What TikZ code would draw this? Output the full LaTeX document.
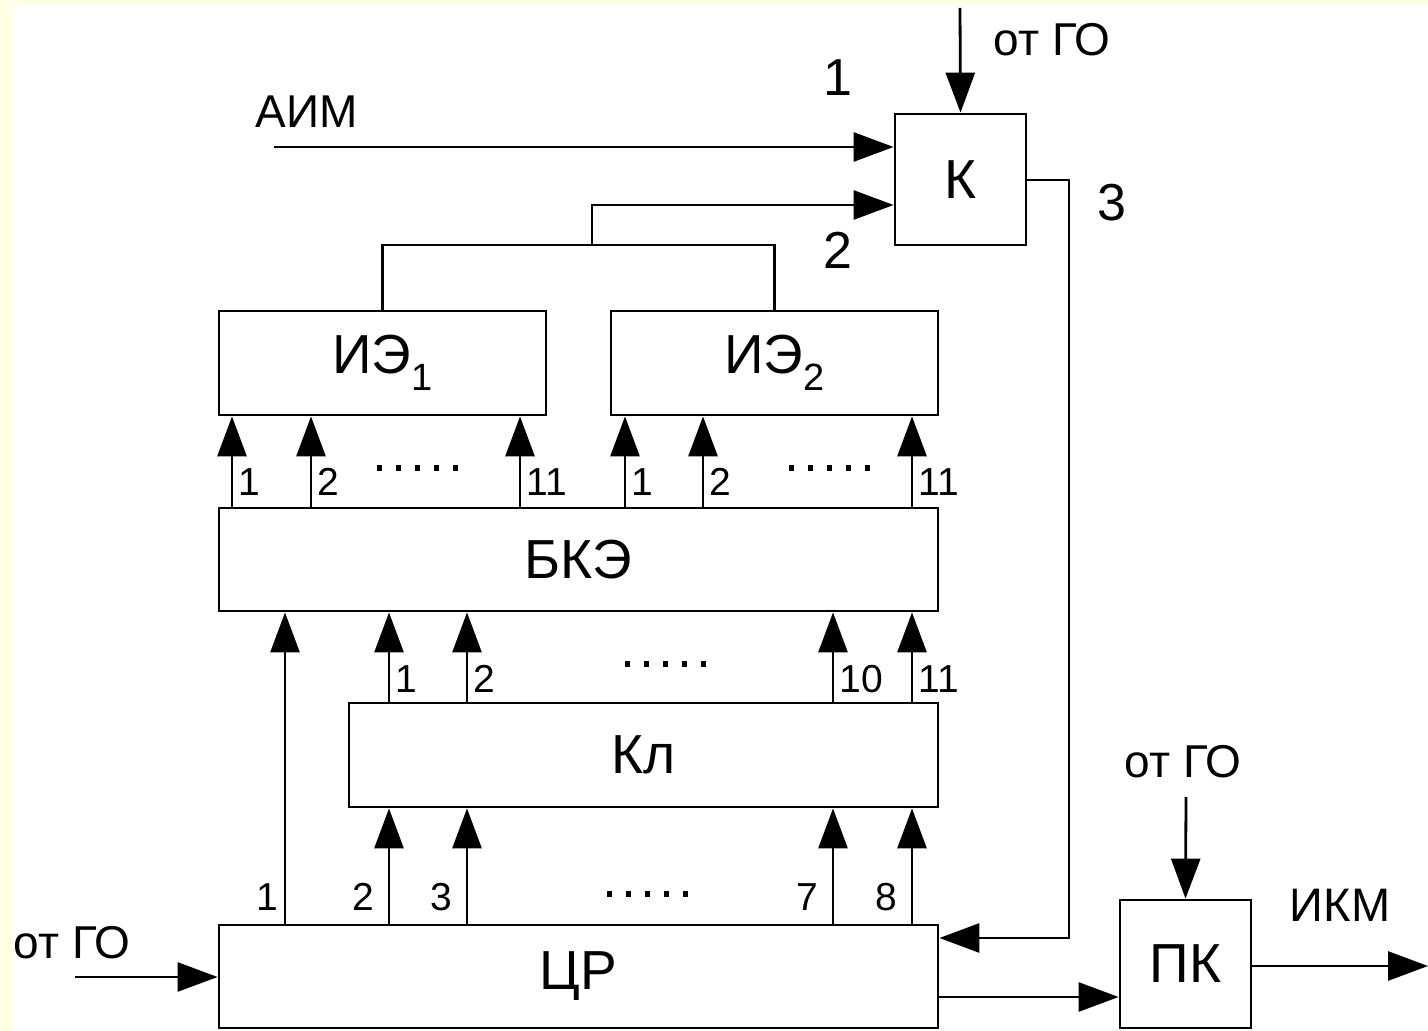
\documentclass[tikz,border=0pt]{standalone}
\usepackage{fontspec}
\setmainfont{Liberation Sans}
\usetikzlibrary{arrows.meta}
\definecolor{cream}{RGB}{255,255,228}
\begin{document}
\begin{tikzpicture}[x=0.5pt,y=-0.5pt,
  blk/.style={draw, line width=1.4pt, inner sep=0pt, font=\fontsize{27.5}{27.5}\selectfont},
  ln/.style={line width=1.4pt},
  arr/.style={line width=1.4pt, -{Triangle[length=20pt,width=14.5pt]}},
  num/.style={font=\fontsize{19.5}{19.5}\selectfont, inner sep=0pt},
  bignum/.style={font=\fontsize{26}{26}\selectfont, inner sep=0pt},
  lab/.style={font=\fontsize{23}{23}\selectfont, inner sep=0pt},
  dotrow/.style={line width=2.6pt, dash pattern=on 2.4pt off 7.1pt}]
\useasboundingbox (0,0) rectangle (1428,1031);
\fill[cream] (0,0) rectangle (1428,1031);
\fill[white] (13,6) rectangle (1428,1031);

% blocks
\node[blk, minimum width=65.5pt, minimum height=65.5pt] (k) at (960.5,179.5) {К};
\node[blk, minimum width=163.5pt, minimum height=52pt] (ie1) at (382.5,363)
  {ИЭ\raisebox{-8.5pt}{\fontsize{19}{19}\selectfont 1}};
\node[blk, minimum width=163.5pt, minimum height=52pt] (ie2) at (774.5,363)
  {ИЭ\raisebox{-8.5pt}{\fontsize{19}{19}\selectfont 2}};
\node[blk, minimum width=359.5pt, minimum height=51.5pt] (bke) at (578.5,559.5) {БКЭ};
\node[blk, minimum width=294.5pt, minimum height=52pt] (kl) at (643.5,755) {Кл};
\node[blk, minimum width=359.5pt, minimum height=51.5pt] (cr) at (578.5,976.5) {ЦР};
\node[blk, minimum width=65.5pt, minimum height=64pt] (pk) at (1185.5,964) {ПК};

% free ends
\coordinate (aimin) at (274,147);
\coordinate (gotop) at (960,8);
\coordinate (goleft) at (75,977);
\coordinate (gopk) at (1186,797);
\coordinate (ikmout) at (1428,966);
\coordinate (j2) at (592,245);

% texts
\node[lab] (taim) at (307,112) {АИМ};
\node[lab] (tgo1) at (1052,40) {от ГО};
\node[lab] (tgo2) at (72,943) {от ГО};
\node[lab] (tgo3) at (1183,762) {от ГО};
\node[lab, font=\fontsize{23.5}{23.5}\selectfont] (tikm) at (1340,905) {ИКМ};
\node[bignum] (t1) at (838,78) {1};
\node[bignum] (t2) at (838,250) {2};
\node[bignum] (t3) at (1112,203) {3};

% K inputs and output
\draw[arr] (gotop) -- (k.north);
\draw[arr] (aimin) -- (aimin -| k.west);
\draw[ln] (ie1.north) |- (j2) -| (ie2.north);
\draw[arr] (j2) |- (k.west |- 0,205);
\draw[arr] (k.east |- 0,180) -| (1069,938) -- (cr.east |- 0,938);

% ЦР, ПК
\draw[arr] (goleft) -- (goleft -| cr.west);
\draw[arr] (cr.east |- 0,997) -- (pk.west |- 0,997);
\draw[arr] (gopk) -- (pk.north);
\draw[arr] (pk.east |- ikmout) -- (ikmout);

% БКЭ -> ИЭ
\foreach \x/\l in {232/1, 311/2, 520/11}{
  \draw[arr] (bke.north -| \x,0) -- (ie1.south -| \x,0);
  \node[num, anchor=west] at (\x+6,482) {\l};
}
\foreach \x/\l in {625/1, 703/2, 912/11}{
  \draw[arr] (bke.north -| \x,0) -- (ie2.south -| \x,0);
  \node[num, anchor=west] at (\x+6,482) {\l};
}
\draw[dotrow] (377,468) -- (458,468);
\draw[dotrow] (789,468) -- (870,468);

% Кл -> БКЭ, ЦР -> БКЭ
\draw[arr] (cr.north -| 285,0) -- (bke.south -| 285,0);
\foreach \x/\l in {389/1, 467/2, 833/10, 912/11}{
  \draw[arr] (kl.north -| \x,0) -- (bke.south -| \x,0);
  \node[num, anchor=west] at (\x+6,679) {\l};
}
\draw[dotrow] (625,664) -- (706,664);

% ЦР -> Кл
\node[num, anchor=east] at (279,897) {1};
\foreach \x/\l in {389/2, 467/3, 833/7, 912/8}{
  \draw[arr] (cr.north -| \x,0) -- (kl.south -| \x,0);
  \node[num, anchor=east] at (\x-14,897) {\l};
}
\draw[dotrow] (607,894) -- (688,894);
\end{tikzpicture}
\end{document}
